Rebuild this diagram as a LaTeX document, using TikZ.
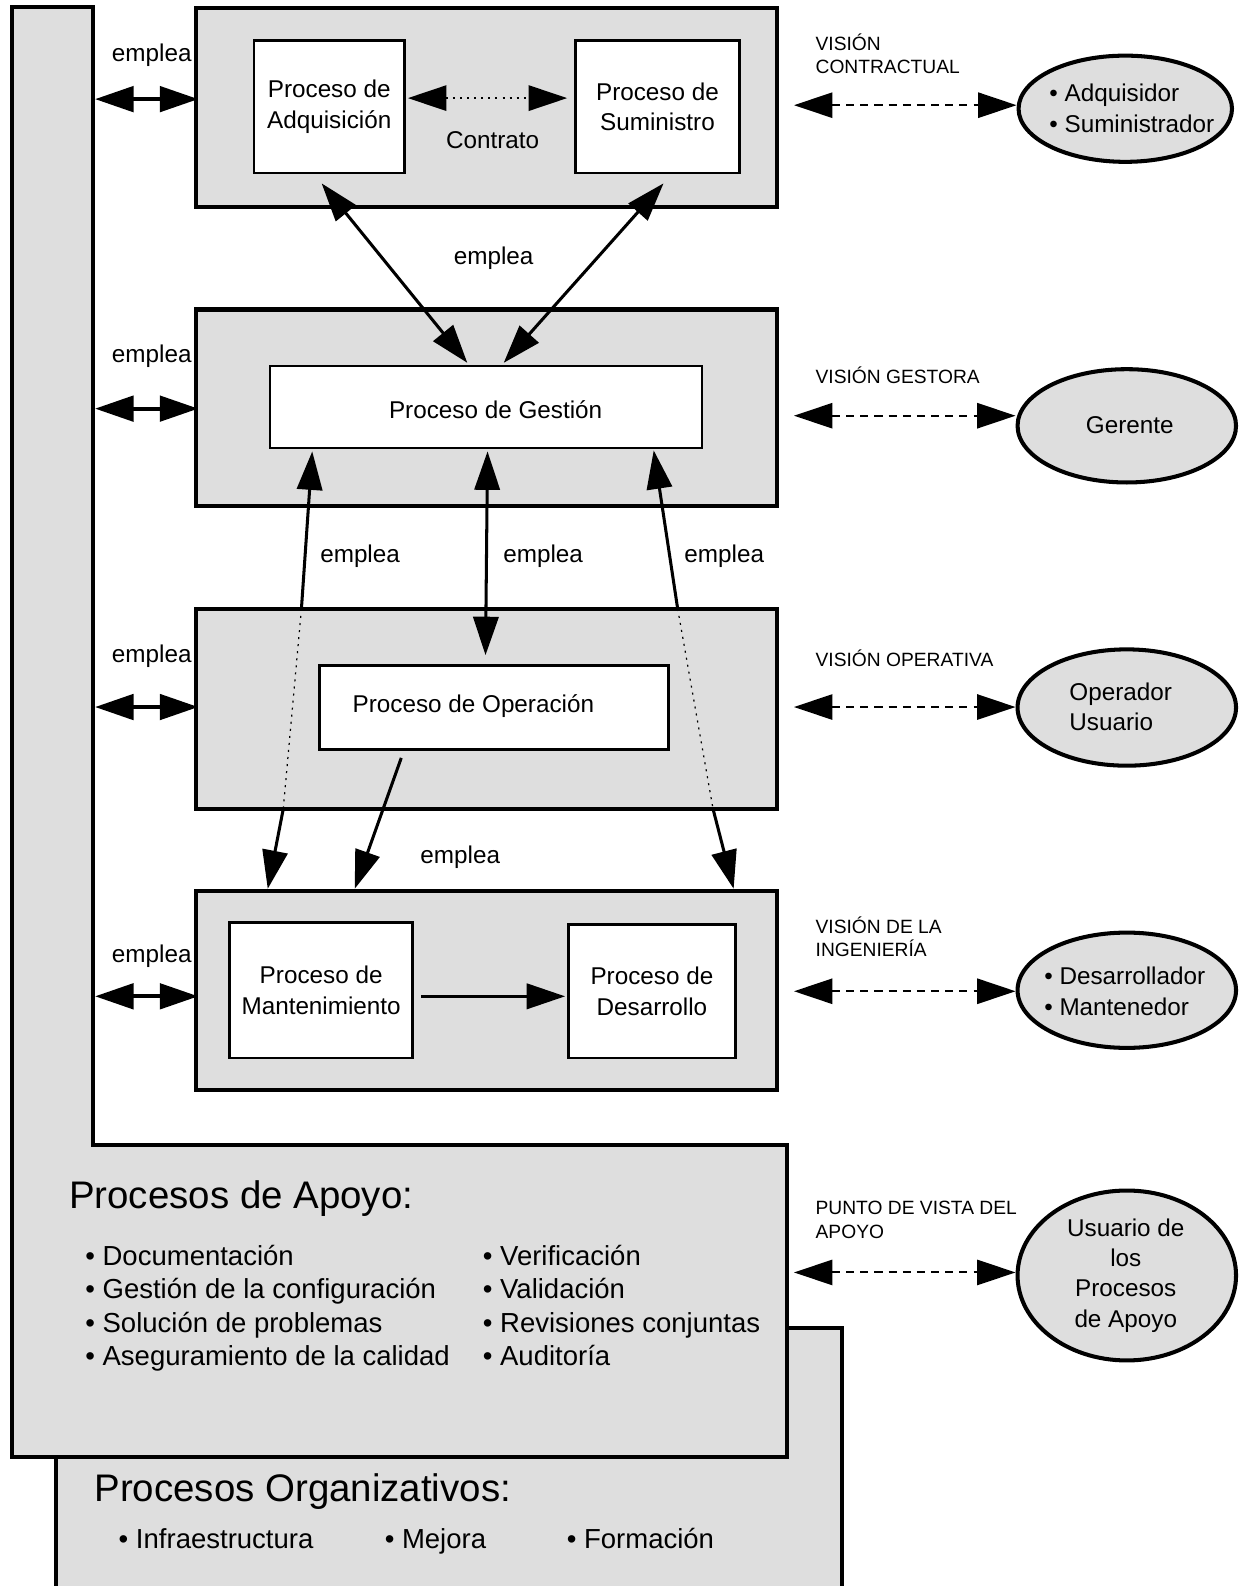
\documentclass[tikz,border=0pt]{standalone}
\usepackage{fontspec}
\setmainfont{Liberation Sans}
\usetikzlibrary{arrows.meta,shapes.geometric,calc}
\definecolor{shadefill}{gray}{0.87}
\tikzset{
  outer/.style={draw, line width=2pt, fill=shadefill, line join=miter},
  levelbox/.style={draw, line width=2pt, fill=shadefill, rectangle, inner sep=0pt},
  proc/.style={draw, line width=1.3pt, fill=white, inner sep=0pt, align=center, font=\fontsize{12}{15}\selectfont},
  actor/.style={draw, ellipse, line width=2pt, fill=shadefill, inner sep=0pt},
  lbl/.style={font=\fontsize{12}{15}\selectfont, inner sep=0pt, align=center},
  actortext/.style={font=\fontsize{12}{15}\selectfont, inner sep=0pt},
  viewlbl/.style={font=\fontsize{9.5}{11.5}\selectfont, align=left, anchor=west, inner sep=0pt},
  bigtitle/.style={font=\fontsize{19}{22}\selectfont, anchor=west, inner sep=0pt},
  listtext/.style={font=\fontsize{13.6}{16.5}\selectfont, align=left, anchor=west, inner sep=0pt},
  usearrow/.style={line width=2pt, <->},
  conn/.style={line width=1.5pt},
  dotconn/.style={line width=0.6pt, dash pattern=on 1pt off 2.5pt},
  dasharrow/.style={line width=1pt, dash pattern=on 4pt off 3pt, <->},
}
\begin{document}
\begin{tikzpicture}[x=0.5pt, y=-0.5pt, >={Triangle[length=19pt,width=12.5pt]}]
\useasboundingbox (0,0) rectangle (1224,1568);
\clip (0,0) rectangle (1224,1568);

% organisational box (behind)
\draw[outer] (55,1313) rectangle (832,1620);
% left column + support processes
\draw[outer] (12,7) -- (92,7) -- (92,1132) -- (778,1132) -- (778,1440) -- (12,1440) -- cycle;

% level boxes
\node[levelbox, minimum width=287pt, minimum height=98.5pt] (L1) at (481,106.5) {};
\node[levelbox, minimum width=287pt, minimum height=97pt] (L2) at (481,403) {};
\node[levelbox, minimum width=287pt, minimum height=99pt] (L3) at (481,701) {};
\node[levelbox, minimum width=287pt, minimum height=98.5pt] (L4) at (481,979.5) {};

% process boxes
\node[proc, minimum width=74.5pt, minimum height=65.5pt] (adq) at (325.5,105.5) {Proceso de\\Adquisición};
\node[proc, minimum width=81pt, minimum height=65.5pt] (sum) at (650,105.5) {Proceso de\\Suministro};
\node[proc, minimum width=213.5pt, minimum height=40.5pt] (ges) at (480.5,402.5) {};
\node[lbl] (gest) at (490,405) {Proceso de Gestión};
\node[proc, minimum width=172.5pt, minimum height=41.5pt] (ope) at (488.5,699.5) {};
\node[lbl] (opet) at (468,698) {Proceso de Operación};
\node[proc, minimum width=90.5pt, minimum height=67pt] (man) at (317.5,979) {Proceso de\\Mantenimiento};
\node[proc, minimum width=82.5pt, minimum height=66pt] (des) at (644.5,980) {Proceso de\\Desarrollo};

% left column "emplea" arrows
\coordinate (c1) at (94,98);
\coordinate (c2) at (94,404);
\coordinate (c3) at (94,699);
\coordinate (c4) at (94,985);
\draw[usearrow] (c1) -- ([xshift=2pt]L1.west |- c1);
\draw[usearrow] (c2) -- ([xshift=2pt]L2.west |- c2);
\draw[usearrow] (c3) -- ([xshift=2pt]L3.west |- c3);
\draw[usearrow] (c4) -- ([xshift=2pt]L4.west |- c4);
\node[lbl] (e1l) at (150,55) {emplea};
\node[lbl] (e2l) at (150,352) {emplea};
\node[lbl] (e3l) at (150,649) {emplea};
\node[lbl] (e4l) at (150,945) {emplea};

% contract
\draw[line width=1pt, dash pattern=on 1pt off 2.5pt, <->] ([xshift=1pt]adq.east |- 0,97) -- ([xshift=-3.5pt]sum.west |- 0,97);
\node[lbl] (contr) at (487,139) {Contrato};

% acquisition/supply <-> management
\draw[conn, <->] ([shift={(-7.5,9)}]adq.south) -- ([shift={(-18.5,-2)}]ges.north);
\draw[conn, <->] ([shift={(6,9)}]sum.south) -- ([shift={(17.5,-2)}]ges.north);
\node[lbl] (emp1) at (488,255) {emplea};

% management <-> operation / engineering
\coordinate (p1) at (298,602);
\coordinate (p2) at (280,800);
\coordinate (q1) at (670,602);
\coordinate (q2) at (705,800);
\draw[conn, <-] ([shift={(43,2)}]ges.south west) -- (p1);
\draw[dotconn] (p1) -- (p2);
\draw[conn, ->] (p2) -- ([shift={(39,-32)}]man.north west);
\draw[conn, <->] ([shift={(1.5,2)}]ges.south) -- ([shift={(-8.5,-9)}]ope.north);
\draw[conn, <-] ([shift={(-49,1)}]ges.south east) -- (q1);
\draw[dotconn] (q1) -- (q2);
\draw[conn, ->] (q2) -- ([shift={(-3,-34)}]des.north east);
\node[lbl] (emp2) at (356,550) {emplea};
\node[lbl] (emp3) at (537,550) {emplea};
\node[lbl] (emp4) at (716,550) {emplea};

% operation -> maintenance
\draw[conn, ->] ([shift={(82,7)}]ope.south west) -- ([shift={(125,-32)}]man.north west);
\node[lbl] (emp5) at (455,847) {emplea};

% maintenance -> development
\draw[conn, ->] ([shift={(7,6)}]man.east) -- ([shift={(-2,0)}]des.west |- 0,985);

% views
\node[viewlbl] (v1l) at (806,53.5) {VISIÓN\\CONTRACTUAL};
\node[viewlbl] (v2l) at (806,371) {VISIÓN GESTORA};
\node[viewlbl] (v3l) at (806,651) {VISIÓN OPERATIVA};
\node[viewlbl] (v4l) at (806,926) {VISIÓN DE LA\\INGENIERÍA};
\node[viewlbl] (v5l) at (806,1206) {PUNTO DE VISTA DEL\\APOYO};

% actors
\node[actor, minimum width=105.5pt, minimum height=52.5pt] (a1) at (1112.5,107.5) {};
\node[actor, minimum width=108pt, minimum height=56pt] (a2) at (1114,421) {};
\node[actor, minimum width=108pt, minimum height=57.5pt] (a3) at (1114,699.5) {};
\node[actor, minimum width=108pt, minimum height=57pt] (a4) at (1114,979) {};
\node[actor, minimum width=108pt, minimum height=84pt] (a5) at (1114,1261) {};
\node[actortext, align=left] (a1t) at (1119,107) {• Adquisidor\\• Suministrador};
\node[actortext] (a2t) at (1117,420) {Gerente};
\node[actortext, align=left] (a3t) at (1108,699) {Operador\\Usuario};
\node[actortext, align=left] (a4t) at (1112,980) {• Desarrollador\\• Mantenedor};
\node[actortext, align=center] (a5t) at (1113,1261) {Usuario de\\los\\Procesos\\de Apoyo};

\coordinate (d1) at (785,104);
\coordinate (d2) at (785,411);
\coordinate (d3) at (785,699);
\coordinate (d4) at (785,980);
\coordinate (d5) at (785,1258);
\draw[dasharrow] (d1) -- (d1 -| a1.west);
\draw[dasharrow] (d2) -- (d2 -| a2.west);
\draw[dasharrow] (d3) -- (d3 -| a3.west);
\draw[dasharrow] (d4) -- (d4 -| a4.west);
\draw[dasharrow] (d5) -- (d5 -| a5.west);

% support processes
\node[bigtitle] (apoyo) at (68,1185) {Procesos de Apoyo:};
\node[listtext] (ap1) at (84,1294) {\strut• Documentación\\\strut• Gestión de la configuración\\\strut• Solución de problemas\\\strut• Aseguramiento de la calidad};
\node[listtext] (ap2) at (477,1294) {\strut• Verificación\\\strut• Validación\\\strut• Revisiones conjuntas\\\strut• Auditoría};

% organisational processes
\node[bigtitle] (org) at (93,1475) {Procesos Organizativos:};
\node[listtext] (or1) at (117,1524) {\strut• Infraestructura};
\node[listtext] (or2) at (380,1524) {\strut• Mejora};
\node[listtext] (or3) at (560,1524) {\strut• Formación};
\end{tikzpicture}
\end{document}
